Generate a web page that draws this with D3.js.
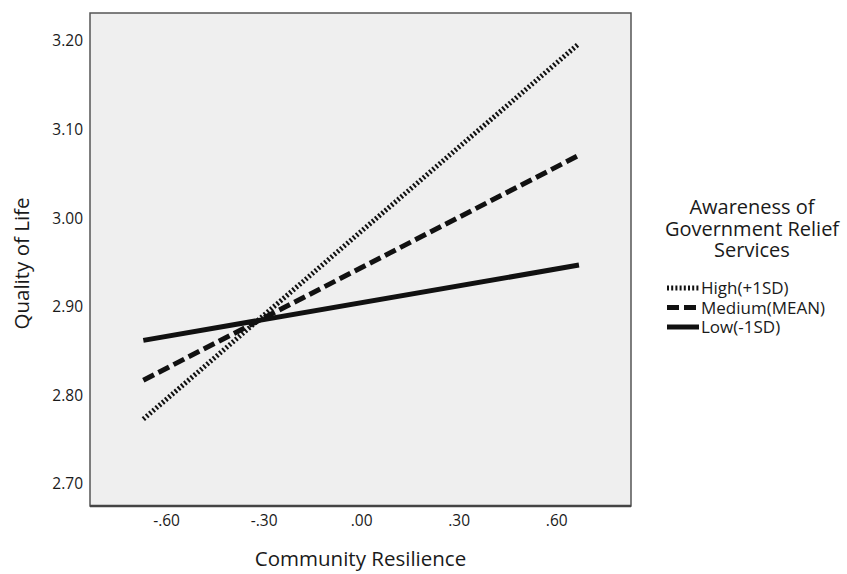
<!DOCTYPE html>
<html><head><meta charset="utf-8">
<script src="https://cdn.jsdelivr.net/npm/d3@7"></script>
<style>body{margin:0;background:#fff}svg{display:block}text{font-family:"Open Sans","Noto Sans",sans-serif;fill:#1a1a1a}</style>
</head><body><svg id="c" width="847" height="574"></svg>
<script>
const xTicks = [-0.6, -0.3, 0, 0.3, 0.6];
const xTickLabels = ["-.60", "-.30", ".00", ".30", ".60"];
const yTicks = [2.7, 2.8, 2.9, 3.0, 3.1, 3.2];
const yTickLabels = ["2.70", "2.80", "2.90", "3.00", "3.10", "3.20"];
const xEnds = [-0.67, 0.67];
const seriesNames = ["High(+1SD)", "Medium(MEAN)", "Low(-1SD)"];
const highVals = [2.773, 3.197];
const mediumVals = [2.817, 3.071];
const lowVals = [2.862, 2.947];
const legendTitle = ["Awareness of", "Government Relief", "Services"];

const FONT = '"Open Sans","Noto Sans",sans-serif';
const svg = d3.select("#c");
const L = 90, T = 13, R = 631, B = 506;
const x = d3.scaleLinear().domain([-0.834, 0.83]).range([L, R]);
const y = d3.scaleLinear().domain([2.675, 3.2316]).range([B, T]);

svg.append("rect").attr("x", L).attr("y", T).attr("width", R - L).attr("height", B - T)
  .attr("fill", "#efefef").attr("stroke", "#555").attr("stroke-width", 1.5);
svg.append("line").attr("x1", L).attr("x2", R).attr("y1", B).attr("y2", B).attr("stroke", "#444").attr("stroke-width", 2.5);

// axes
const xAxis = d3.axisBottom(x).tickValues(xTicks).tickSize(0).tickPadding(9)
  .tickFormat((d, i) => xTickLabels[i]);
const gx = svg.append("g").attr("transform", `translate(0,${B})`).call(xAxis);
gx.select(".domain").remove();
gx.selectAll("text").attr("font-size", 15.5).attr("font-family", FONT).attr("fill", "#1a1a1a");

const yAxis = d3.axisLeft(y).tickValues(yTicks).tickSize(0).tickPadding(7)
  .tickFormat((d, i) => yTickLabels[i]);
const gy = svg.append("g").attr("transform", `translate(${L},0)`).call(yAxis);
gy.select(".domain").remove();
gy.selectAll("text").attr("font-size", 15.5).attr("font-family", FONT).attr("fill", "#1a1a1a");

svg.append("text").attr("x", (L + R) / 2).attr("y", 566).attr("text-anchor", "middle")
  .attr("font-size", 20.5).text("Community Resilience");
svg.append("text").attr("transform", `translate(29,${(T + B) / 2 + 4}) rotate(-90)`).attr("text-anchor", "middle")
  .attr("font-size", 20.5).text("Quality of Life");

const styles = [
  {vals: highVals, dash: "2,2.2", w: 5},
  {vals: mediumVals, dash: "12,5", w: 5},
  {vals: lowVals, dash: null, w: 5}
];
const line = d3.line().x(d => x(d[0])).y(d => y(d[1]));
styles.forEach(s => {
  svg.append("path").datum(xEnds.map((xv, i) => [xv, s.vals[i]]))
    .attr("d", line).attr("fill", "none").attr("stroke", "#111")
    .attr("stroke-width", s.w).attr("stroke-dasharray", s.dash);
});

// legend
const lg = svg.append("g");
legendTitle.forEach((t, i) => {
  lg.append("text").attr("x", 752).attr("y", 214 + i * 21.5).attr("text-anchor", "middle")
    .attr("font-size", 20).text(t);
});
styles.forEach((s, i) => {
  const yy = 288 + i * 19.5;
  lg.append("line").attr("x1", 667).attr("x2", 699).attr("y1", yy).attr("y2", yy)
    .attr("stroke", "#111").attr("stroke-width", s.w).attr("stroke-dasharray", s.dash);
  lg.append("text").attr("x", 701).attr("y", yy + 6).attr("font-size", 17).text(seriesNames[i]);
});
</script></body></html>
